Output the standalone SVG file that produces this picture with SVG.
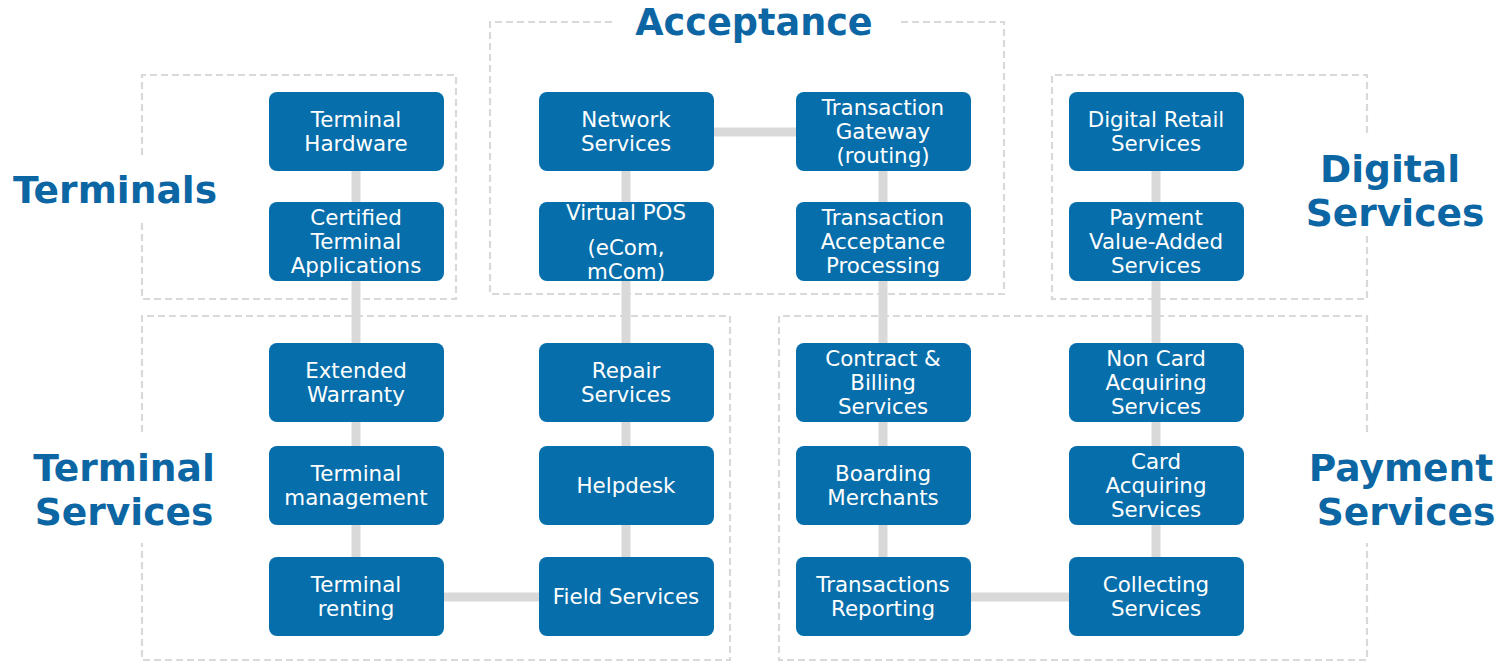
<svg xmlns="http://www.w3.org/2000/svg" width="1502" height="664" viewBox="0 0 1502 664">
  <style>
    .frame { fill: none; stroke: #d9d9d9; stroke-width: 2.2; stroke-dasharray: 7 4; }
    .link { stroke: #d9d9d9; stroke-width: 9; fill: none; }
    .box { fill: #066eab; }
    .lbl { font-family: "DejaVu Sans", Verdana, sans-serif; font-size: 21.4px; fill: #ffffff; text-anchor: middle; }
    .title { font-family: "DejaVu Sans", Verdana, sans-serif; font-size: 37.6px; font-weight: bold; fill: #0b66a3; text-anchor: middle; }
  </style>
  <rect width="1502" height="664" fill="#ffffff"/>

  <!-- group frames (dashed, with gaps for their headings) -->
  <g id="frames">
    <path class="frame" d="M142 155 V75 H456 V299 H142 V222"/>
    <path class="frame" d="M612 22 H490 V294 H1004 V22 H897"/>
    <path class="frame" d="M1367 133 V75 H1052 V299 H1367 V232"/>
    <path class="frame" d="M142 432 V316 H730 V660 H142 V543"/>
    <path class="frame" d="M1367 432 V316 H779 V660 H1367 V543"/>
  </g>

  <!-- headings -->
  <g id="titles">
    <text class="title" x="754" y="35" style="font-size:36.6px">Acceptance</text>
    <text class="title" x="115" y="203">Terminals</text>
    <text class="title" x="1390" y="182">Digital</text>
    <text class="title" x="1395" y="226">Services</text>
    <text class="title" x="124" y="481">Terminal</text>
    <text class="title" x="124" y="525">Services</text>
    <text class="title" x="1401" y="481">Payment</text>
    <text class="title" x="1406" y="525">Services</text>
  </g>

  <!-- connectors -->
  <g id="connectors">
    <line class="link" x1="356" y1="132" x2="356" y2="597"/>
    <line class="link" x1="626" y1="132" x2="626" y2="597"/>
    <line class="link" x1="883" y1="132" x2="883" y2="597"/>
    <line class="link" x1="1156" y1="132" x2="1156" y2="597"/>
    <line class="link" x1="714" y1="132" x2="796" y2="132"/>
    <line class="link" x1="443" y1="597" x2="539" y2="597"/>
    <line class="link" x1="970" y1="597" x2="1069" y2="597"/>
  </g>

  <!-- column 1 -->
  <g id="terminal-hardware">
    <rect class="box" x="269" y="92" width="175" height="79" rx="8"/>
    <text class="lbl" x="356" y="126.5">Terminal</text>
    <text class="lbl" x="356" y="150.5">Hardware</text>
  </g>
  <g id="certified-terminal-applications">
    <rect class="box" x="269" y="202" width="175" height="79" rx="8"/>
    <text class="lbl" x="356" y="224.5">Certified</text>
    <text class="lbl" x="356" y="248.5">Terminal</text>
    <text class="lbl" x="356" y="272.5">Applications</text>
  </g>
  <g id="extended-warranty">
    <rect class="box" x="269" y="343" width="175" height="79" rx="8"/>
    <text class="lbl" x="356" y="377.5">Extended</text>
    <text class="lbl" x="356" y="401.5">Warranty</text>
  </g>
  <g id="terminal-management">
    <rect class="box" x="269" y="446" width="175" height="79" rx="8"/>
    <text class="lbl" x="356" y="480.5">Terminal</text>
    <text class="lbl" x="356" y="504.5">management</text>
  </g>
  <g id="terminal-renting">
    <rect class="box" x="269" y="557" width="175" height="79" rx="8"/>
    <text class="lbl" x="356" y="591.5">Terminal</text>
    <text class="lbl" x="356" y="615.5">renting</text>
  </g>

  <!-- column 2 -->
  <g id="network-services">
    <rect class="box" x="539" y="92" width="175" height="79" rx="8"/>
    <text class="lbl" x="626" y="126.5">Network</text>
    <text class="lbl" x="626" y="150.5">Services</text>
  </g>
  <g id="virtual-pos">
    <rect class="box" x="539" y="202" width="175" height="79" rx="8"/>
    <text class="lbl" x="626" y="220">Virtual POS</text>
    <text class="lbl" x="626" y="255">(eCom,</text>
    <text class="lbl" x="626" y="279">mCom)</text>
  </g>
  <g id="repair-services">
    <rect class="box" x="539" y="343" width="175" height="79" rx="8"/>
    <text class="lbl" x="626" y="377.5">Repair</text>
    <text class="lbl" x="626" y="401.5">Services</text>
  </g>
  <g id="helpdesk">
    <rect class="box" x="539" y="446" width="175" height="79" rx="8"/>
    <text class="lbl" x="626" y="492.5">Helpdesk</text>
  </g>
  <g id="field-services">
    <rect class="box" x="539" y="557" width="175" height="79" rx="8"/>
    <text class="lbl" x="626" y="603.5">Field Services</text>
  </g>

  <!-- column 3 -->
  <g id="transaction-gateway">
    <rect class="box" x="796" y="92" width="175" height="79" rx="8"/>
    <text class="lbl" x="883" y="114.5">Transaction</text>
    <text class="lbl" x="883" y="138.5">Gateway</text>
    <text class="lbl" x="883" y="162.5">(routing)</text>
  </g>
  <g id="transaction-acceptance-processing">
    <rect class="box" x="796" y="202" width="175" height="79" rx="8"/>
    <text class="lbl" x="883" y="224.5">Transaction</text>
    <text class="lbl" x="883" y="248.5">Acceptance</text>
    <text class="lbl" x="883" y="272.5">Processing</text>
  </g>
  <g id="contract-billing-services">
    <rect class="box" x="796" y="343" width="175" height="79" rx="8"/>
    <text class="lbl" x="883" y="365.5">Contract &amp;</text>
    <text class="lbl" x="883" y="389.5">Billing</text>
    <text class="lbl" x="883" y="413.5">Services</text>
  </g>
  <g id="boarding-merchants">
    <rect class="box" x="796" y="446" width="175" height="79" rx="8"/>
    <text class="lbl" x="883" y="480.5">Boarding</text>
    <text class="lbl" x="883" y="504.5">Merchants</text>
  </g>
  <g id="transactions-reporting">
    <rect class="box" x="796" y="557" width="175" height="79" rx="8"/>
    <text class="lbl" x="883" y="591.5">Transactions</text>
    <text class="lbl" x="883" y="615.5">Reporting</text>
  </g>

  <!-- column 4 -->
  <g id="digital-retail-services">
    <rect class="box" x="1069" y="92" width="175" height="79" rx="8"/>
    <text class="lbl" x="1156" y="126.5">Digital Retail</text>
    <text class="lbl" x="1156" y="150.5">Services</text>
  </g>
  <g id="payment-value-added-services">
    <rect class="box" x="1069" y="202" width="175" height="79" rx="8"/>
    <text class="lbl" x="1156" y="224.5">Payment</text>
    <text class="lbl" x="1156" y="248.5">Value-Added</text>
    <text class="lbl" x="1156" y="272.5">Services</text>
  </g>
  <g id="non-card-acquiring-services">
    <rect class="box" x="1069" y="343" width="175" height="79" rx="8"/>
    <text class="lbl" x="1156" y="365.5">Non Card</text>
    <text class="lbl" x="1156" y="389.5">Acquiring</text>
    <text class="lbl" x="1156" y="413.5">Services</text>
  </g>
  <g id="card-acquiring-services">
    <rect class="box" x="1069" y="446" width="175" height="79" rx="8"/>
    <text class="lbl" x="1156" y="468.5">Card</text>
    <text class="lbl" x="1156" y="492.5">Acquiring</text>
    <text class="lbl" x="1156" y="516.5">Services</text>
  </g>
  <g id="collecting-services">
    <rect class="box" x="1069" y="557" width="175" height="79" rx="8"/>
    <text class="lbl" x="1156" y="591.5">Collecting</text>
    <text class="lbl" x="1156" y="615.5">Services</text>
  </g>
</svg>
